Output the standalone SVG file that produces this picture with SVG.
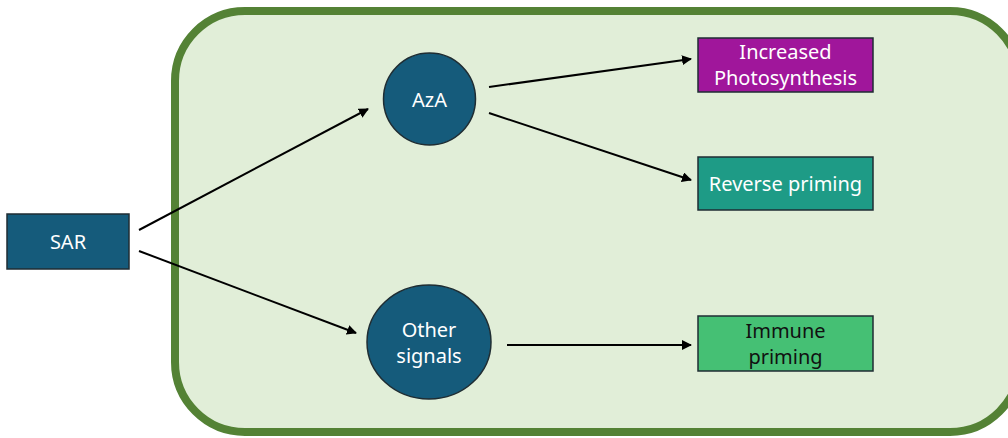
<svg xmlns="http://www.w3.org/2000/svg" width="1008" height="438" viewBox="0 0 1008 438">
<defs>
<style>
.lbl{font-family:"Noto Sans","Liberation Sans",sans-serif;font-size:20px;text-anchor:middle;dominant-baseline:central}
.w{fill:#ffffff}
.k{fill:#111111}
.node{stroke:#1f2d33;stroke-width:1.5}
.conn{stroke:#000;stroke-width:2;fill:none;marker-end:url(#ah)}
</style>
<marker id="ah" viewBox="0 0 10 10" refX="9" refY="5" markerWidth="5" markerHeight="5" orient="auto" markerUnits="strokeWidth">
<path d="M0,0 L10,5 L0,10 z" fill="#000"/>
</marker>
</defs>
<rect width="1008" height="438" fill="#ffffff"/>
<g id="container">
<rect x="175" y="11" width="845" height="421" rx="70" ry="70" fill="#e1eed8" stroke="#548235" stroke-width="8"/>
</g>
<g id="connectors">
<line class="conn" x1="139" y1="230" x2="368" y2="109"/>
<line class="conn" x1="139" y1="251" x2="356" y2="333"/>
<line class="conn" x1="489" y1="87" x2="691" y2="59"/>
<line class="conn" x1="489" y1="113" x2="691" y2="180"/>
<line class="conn" x1="507" y1="345" x2="691" y2="345"/>
</g>
<g id="sar">
<rect class="node" x="7" y="214" width="122" height="55" fill="#155b7b"/>
<text class="lbl w" x="68" y="241">SAR</text>
</g>
<g id="aza">
<circle class="node" cx="429.5" cy="99" r="46" fill="#155b7b"/>
<text class="lbl w" x="429.5" y="99">AzA</text>
</g>
<g id="other">
<ellipse class="node" cx="429" cy="342" rx="62" ry="57" fill="#155b7b"/>
<text class="lbl w" x="429" y="329">Other</text>
<text class="lbl w" x="429" y="355">signals</text>
</g>
<g id="photo">
<rect class="node" x="698" y="38" width="175" height="54" fill="#a0169b"/>
<text class="lbl w" x="785.5" y="51">Increased</text>
<text class="lbl w" x="785.5" y="77">Photosynthesis</text>
</g>
<g id="reverse">
<rect class="node" x="698" y="157" width="175" height="53" fill="#1e9b86"/>
<text class="lbl w" x="785.5" y="183">Reverse priming</text>
</g>
<g id="immune">
<rect class="node" x="698" y="316" width="175" height="55" fill="#45c074"/>
<text class="lbl k" x="785.5" y="330">Immune</text>
<text class="lbl k" x="785.5" y="356">priming</text>
</g>
</svg>
